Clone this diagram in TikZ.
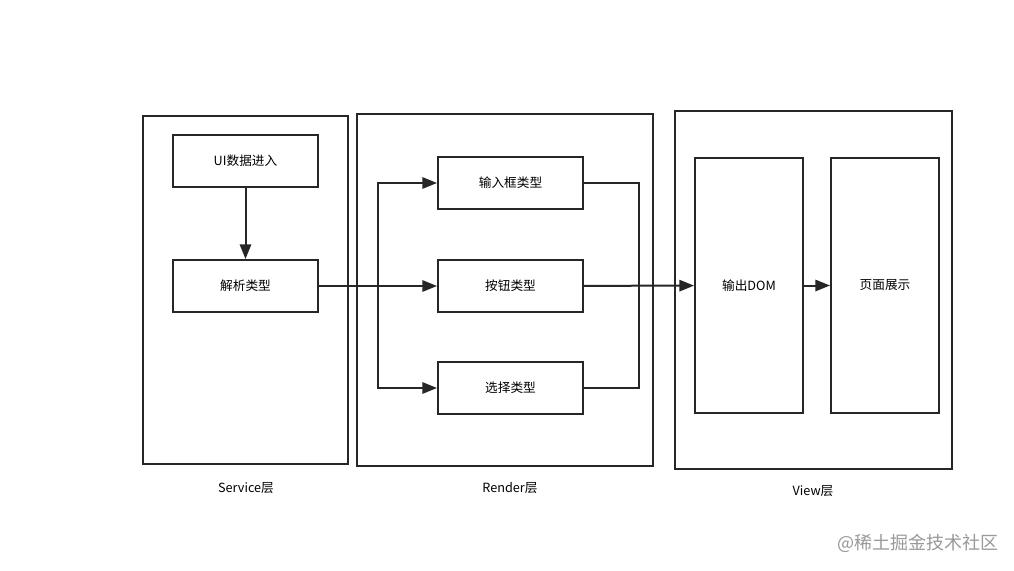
\documentclass[tikz,border=0pt]{standalone}
\usepackage{fontspec}
\setmainfont{Noto Sans CJK SC}
\usetikzlibrary{arrows.meta}

\begin{document}
\begin{tikzpicture}[
  x=0.75pt, y=-0.75pt,
  font=\fontsize{9.5}{11}\selectfont,
  layer/.style={draw=black!85, line width=1.5pt, minimum width=#1},
  item/.style={draw=black!85, line width=1.5pt, minimum width=108.75pt, minimum height=39pt, inner sep=0pt},
  tall/.style={draw=black!85, line width=1.5pt, minimum width=81pt, minimum height=191.25pt, inner sep=0pt},
  caption/.style={font=\fontsize{9.5}{11}\selectfont},
  link/.style={draw=black!85, line width=1.5pt},
  flow/.style={link, -{Triangle[length=11pt, width=8.5pt]}}
]
\useasboundingbox[fill=white] (0,0) rectangle (1014,571);

% three layers
\node[layer=153.75pt, minimum height=261pt] (service) at (245.5,290) {};
\node[layer=222pt, minimum height=264pt] (render) at (505,290) {};
\node[layer=207.75pt, minimum height=268.5pt] (view) at (813.5,290) {};

\node[caption] (servicelbl) at (246,488) {Service层};
\node[caption] (renderlbl) at (510,488) {Render层};
\node[caption] (viewlbl) at (813,491) {View层};

% service layer
\node[item] (input) at (245.5,161) {UI数据进入};
\node[item] (parse) at (245.5,286) {解析类型};

% render layer
\node[item] (textbox) at (510.5,183) {输入框类型};
\node[item] (button) at (510.5,286) {按钮类型};
\node[item] (select) at (510.5,388) {选择类型};

% view layer
\node[tall] (dom) at (749,285.5) {输出DOM};
\node[tall] (page) at (885,285.5) {页面展示};

\coordinate (split) at (378,286);
\coordinate (merge) at (639,286);

\draw[flow] (input) -- (parse);
\draw[flow] (parse) -- (button);
\draw[flow] (split) |- (textbox.west);
\draw[flow] (split) |- (select.west);
\draw[link] (textbox.east) -| (merge) |- (select.east);
\draw[flow] (button) -- (dom);
\draw[flow] (dom) -- (page);

\node[text=black!40, font=\fontsize{13.5}{15}\selectfont] (mark) at (918,543) {@稀土掘金技术社区};
\end{tikzpicture}
\end{document}
